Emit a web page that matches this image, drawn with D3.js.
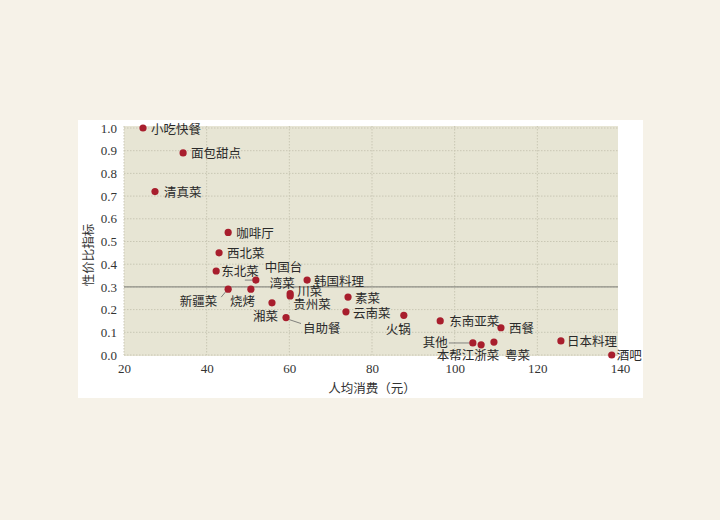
<!DOCTYPE html>
<html><head><meta charset="utf-8">
<script src="https://cdn.jsdelivr.net/npm/d3@7"></script>
<style>
html,body{margin:0;padding:0;background:#f6f2e8;}
svg{display:block;}
</style></head>
<body>
<svg id="chart" width="720" height="520"></svg>
<script>
// ---- data ----
const categories = ["小吃快餐","面包甜点","清真菜","咖啡厅","西北菜","东北菜","中国台湾菜","韩国料理","新疆菜","烧烤","川菜","贵州菜","素菜","湘菜","云南菜","自助餐","火锅","东南亚菜","西餐","其他","本帮江浙菜","粤菜","日本料理","酒吧"];
const avgSpend   = [24.6, 34.3, 27.5, 45.2, 43.0, 42.3, 51.9, 64.3, 45.2, 50.7, 60.2, 60.2, 74.2, 55.8, 73.7, 59.2, 87.7, 96.5, 111.2, 104.4, 106.4, 109.5, 125.7, 138.0];
const valueIndex = [1.00, 0.89, 0.72, 0.54, 0.45, 0.37, 0.33, 0.33, 0.29, 0.29, 0.27, 0.26, 0.255, 0.23, 0.19, 0.165, 0.175, 0.15, 0.12, 0.053, 0.045, 0.057, 0.062, 0.0];
const xTicks = [20, 40, 60, 80, 100, 120, 140];
const yTicks = [0.0, 0.1, 0.2, 0.3, 0.4, 0.5, 0.6, 0.7, 0.8, 0.9, 1.0];
const refValue = 0.3;
const xTitle = "人均消费（元）";
const yTitle = "性价比指标";

// ---- label placement (pixels relative to point) ----
const labelPos = {
  "小吃快餐":{dx:8,dy:0}, "面包甜点":{dx:8,dy:0}, "清真菜":{dx:9,dy:0},
  "咖啡厅":{dx:8,dy:0}, "西北菜":{dx:8,dy:0}, "东北菜":{dx:5,dy:-1},
  "中国台湾菜":{lines:[{t:"中国台",dx:9,dy:-14},{t:"湾菜",dx:14,dy:2}], leader:[-11,0,-3,0]},
  "韩国料理":{dx:7,dy:0},
  "新疆菜":{dx:-11,dy:11,anchor:"end", leader:[-7,8,-2,2]},
  "烧烤":{dx:-21,dy:11},
  "川菜":{dx:7,dy:-3}, "贵州菜":{dx:3,dy:8}, "素菜":{dx:7,dy:0},
  "湘菜":{dx:-19,dy:13}, "云南菜":{dx:7,dy:1},
  "自助餐":{dx:17,dy:10, leader:[3,2,15,6]},
  "火锅":{dx:-18,dy:13}, "东南亚菜":{dx:9,dy:0}, "西餐":{dx:8,dy:0},
  "其他":{dx:-25,dy:-1,anchor:"end", leader:[-24,0,-3,0]},
  "本帮江浙菜":{dx:-13,dy:10,anchor:"middle"},
  "粤菜":{dx:11,dy:12}, "日本料理":{dx:6,dy:0}, "酒吧":{dx:5,dy:-1}
};

const svg = d3.select("#chart");
// white panel
svg.append("rect").attr("x",78).attr("y",120).attr("width",565).attr("height",278).attr("fill","#ffffff");

const x = d3.scaleLinear().domain([20,140]).range([124,620]);
const y = d3.scaleLinear().domain([0,1]).range([355,128]);

// plot background
svg.append("rect").attr("x",x(20)).attr("y",126).attr("width",x(140)-x(20)-2).attr("height",y(0)-126+1)
  .attr("fill","#e7e5d4");

// grid
const grid = svg.append("g");
grid.selectAll("line.h").data(yTicks).join("line")
  .attr("x1",x(20)).attr("x2",x(140)-2).attr("y1",d=>y(d)).attr("y2",d=>y(d))
  .attr("stroke","#c9c7b4").attr("stroke-width",1).attr("stroke-dasharray","1.5,1.5");
grid.selectAll("line.v").data(xTicks.slice(0,-1)).join("line")
  .attr("x1",d=>x(d)).attr("x2",d=>x(d)).attr("y1",126).attr("y2",y(0))
  .attr("stroke","#c9c7b4").attr("stroke-width",1).attr("stroke-dasharray","1.5,1.5");

// axes (tick labels only)
const xAxis = svg.append("g").attr("transform",`translate(0,${y(0)})`)
  .call(d3.axisBottom(x).tickValues(xTicks).tickSize(0).tickPadding(9).tickFormat(d3.format("d")));
const yAxis = svg.append("g").attr("transform",`translate(${x(20)},0)`)
  .call(d3.axisLeft(y).tickValues(yTicks).tickSize(0).tickPadding(7).tickFormat(d3.format(".1f")));
[xAxis,yAxis].forEach(a=>{
  a.select(".domain").remove();
  a.selectAll("text").attr("font-family","'Liberation Serif','DejaVu Serif',serif").attr("font-size",13).attr("fill","#333");
});

// reference line
svg.append("line").attr("x1",x(20)).attr("x2",x(140)-2).attr("y1",y(refValue)).attr("y2",y(refValue))
  .attr("stroke","#8e8e86").attr("stroke-width",1.4);

// axis titles
const cjk = "'Noto Sans CJK SC','Noto Sans CJK JP',sans-serif";
svg.append("text").attr("x",372).attr("y",393).attr("text-anchor","middle")
  .attr("font-family",cjk).attr("font-size",12.5).attr("fill","#333").text(xTitle);
svg.append("text").attr("transform","translate(93,255) rotate(-90)").attr("text-anchor","middle")
  .attr("font-family",cjk).attr("font-size",12.5).attr("fill","#333").text(yTitle);

const pts = categories.map((c,i)=>({name:c, px:x(avgSpend[i]), py:y(valueIndex[i])}));

// leaders
svg.append("g").selectAll("line").data(pts.filter(p=>labelPos[p.name].leader)).join("line")
  .attr("x1",p=>p.px+labelPos[p.name].leader[0]).attr("y1",p=>p.py+labelPos[p.name].leader[1])
  .attr("x2",p=>p.px+labelPos[p.name].leader[2]).attr("y2",p=>p.py+labelPos[p.name].leader[3])
  .attr("stroke","#666").attr("stroke-width",0.8);

// points
svg.append("g").selectAll("circle").data(pts).join("circle")
  .attr("cx",p=>p.px).attr("cy",p=>p.py).attr("r",3.6).attr("fill","#a81e2d");

// labels
const lab = svg.append("g").attr("font-family",cjk).attr("font-size",12.5).attr("fill","#2a2a2a");
pts.forEach(p=>{
  const L = labelPos[p.name];
  const lines = L.lines || [{t:p.name,dx:L.dx,dy:L.dy}];
  lines.forEach(l=>{
    lab.append("text").attr("x",p.px+l.dx).attr("y",p.py+l.dy)
      .attr("dominant-baseline","central").attr("text-anchor",L.anchor||"start").text(l.t);
  });
});
</script>
</body></html>
